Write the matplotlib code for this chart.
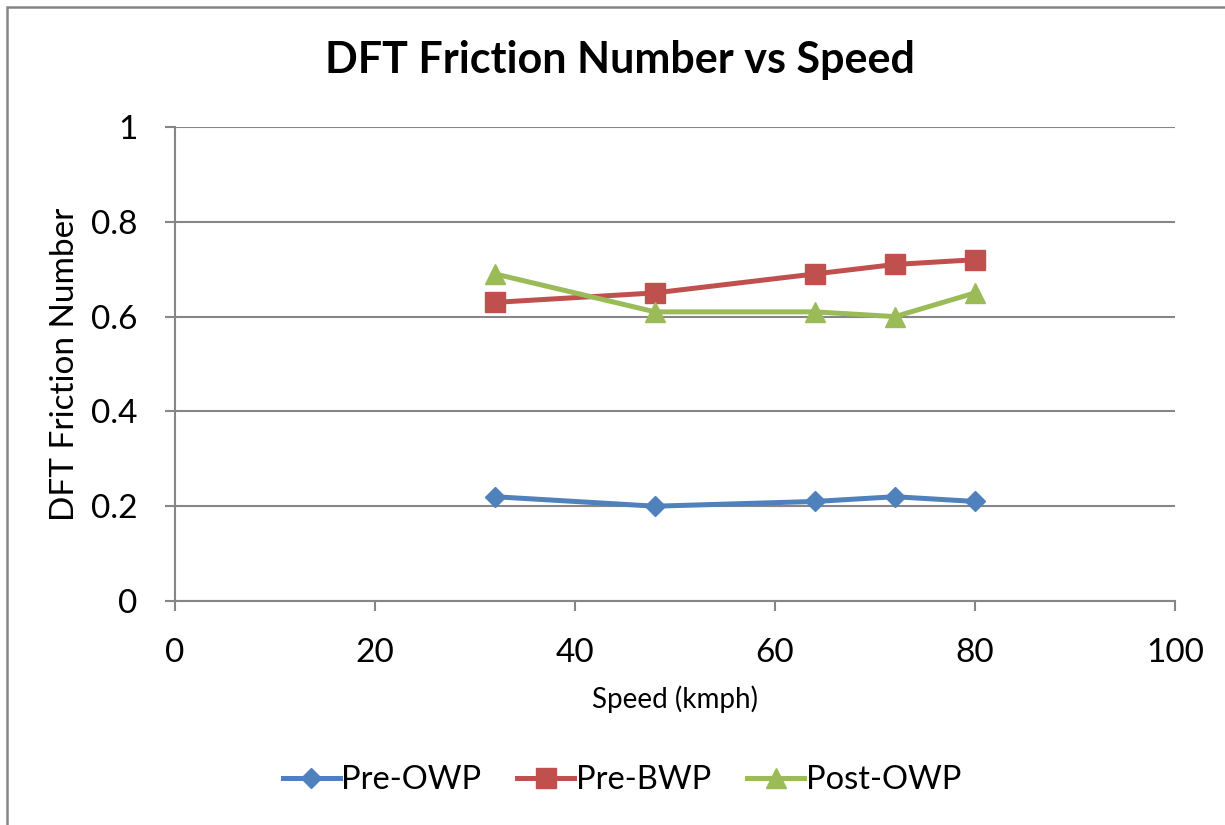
import matplotlib
matplotlib.use("Agg")
import matplotlib.pyplot as plt
from matplotlib.patches import Rectangle

# Data
speed = [32, 48, 64, 72, 80]
pre_owp = [0.22, 0.20, 0.21, 0.22, 0.21]
pre_bwp = [0.63, 0.65, 0.69, 0.71, 0.72]
post_owp = [0.69, 0.61, 0.61, 0.60, 0.65]
x_ticks = [0, 20, 40, 60, 80, 100]
y_ticks = [0, 0.2, 0.4, 0.6, 0.8, 1]
y_labels = ["0", "0.2", "0.4", "0.6", "0.8", "1"]

plt.rcParams['font.family'] = ['Lato', 'DejaVu Sans']

fig = plt.figure(figsize=(12.25, 8.25), dpi=100)
fig.patch.set_facecolor("white")

# chart frame
fig.patches.append(Rectangle((7 / 1225, -0.1), 1.2, 1 - 7 / 825 + 0.1,
                             transform=fig.transFigure, fill=False,
                             edgecolor="#868686", linewidth=1.8))

ax = fig.add_axes([175 / 1225, 1 - 601 / 825, 1000 / 1225, 474 / 825])

grey = "#868686"
ax.plot(speed, pre_owp, color="#4F81BD", linewidth=3.6, marker="D",
        markersize=10, label="Pre-OWP", zorder=3)
ax.plot(speed, pre_bwp, color="#C0504D", linewidth=3.6, marker="s",
        markersize=14, label="Pre-BWP", zorder=3)
ax.plot(speed, post_owp, color="#9BBB59", linewidth=3.6, marker="^",
        markersize=15, label="Post-OWP", zorder=3)

ax.set_xlim(0, 100)
ax.set_ylim(0, 1)
ax.set_xticks(x_ticks)
ax.set_xticklabels([str(t) for t in x_ticks])
ax.set_yticks(y_ticks)
ax.set_yticklabels(y_labels)
ax.yaxis.grid(True, color=grey, linewidth=1.5)
ax.set_axisbelow(True)
for s in ["top", "right"]:
    ax.spines[s].set_visible(False)
for s in ["left", "bottom"]:
    ax.spines[s].set_color(grey)
    ax.spines[s].set_linewidth(1.5)
ax.tick_params(axis="both", colors=grey, width=1.5, length=7,
               labelcolor="black", labelsize=24)
ax.tick_params(axis="x", pad=20)
ax.tick_params(axis="y", pad=20)

ax.set_xlabel("Speed (kmph)", fontsize=20, labelpad=12)
ax.set_ylabel("DFT Friction Number", fontsize=24, labelpad=8)

fig.text(620 / 1225, 1 - 60 / 825, "DFT Friction Number vs Speed",
         ha="center", va="center", fontsize=31, fontweight="bold")

fig.legend(loc="center", bbox_to_anchor=(622 / 1225, 1 - 780 / 825),
           ncol=3, frameon=False, fontsize=23.5, handlelength=1.75,
           handletextpad=0.05, columnspacing=1.1)

fig.savefig("out.png", dpi=100)
